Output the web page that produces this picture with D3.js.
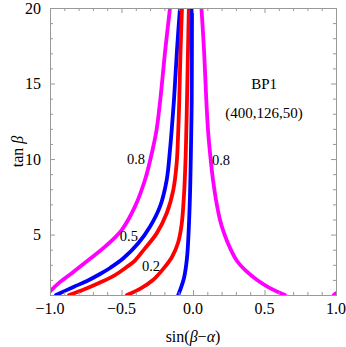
<!DOCTYPE html>
<html>
<head>
<meta charset="utf-8">
<script src="https://cdn.jsdelivr.net/npm/d3@7"></script>
<style>
  body { margin: 0; background: #fff; }
  text { font-family: "Liberation Serif", "DejaVu Serif", serif; }
</style>
</head>
<body>
<svg id="chart" width="346" height="347"></svg>
<script>
// axis ticks
const xTicks = [-1.0, -0.5, 0.0, 0.5, 1.0];
const xMinor = d3.range(-10, 11).map(d => d / 10);
const yTicks = [5, 10, 15, 20];
const yMinor = d3.range(1, 21);

// contour lines, [sin(beta-alpha), tan beta]
const magentaLeft = [[-1.0,1.23],[-0.941,1.77],[-0.846,2.46],[-0.731,3.32],[-0.615,4.20],[-0.499,5.30],[-0.406,6.85],[-0.336,8.61],[-0.283,10.60],[-0.255,11.92],[-0.229,13.91],[-0.194,17.22],[-0.161,20]];
const blueLeft = [[-0.958,1.0],[-0.836,1.53],[-0.741,1.93],[-0.650,2.39],[-0.580,2.79],[-0.487,3.43],[-0.383,4.42],[-0.301,5.52],[-0.231,6.85],[-0.184,8.61],[-0.161,10.60],[-0.149,11.92],[-0.133,13.91],[-0.112,17.22],[-0.091,20]];
const redOuter = [[-0.867,1.0],[-0.755,1.40],[-0.650,1.83],[-0.545,2.32],[-0.464,2.85],[-0.406,3.28],[-0.336,4.09],[-0.254,5.08],[-0.184,6.41],[-0.138,7.95],[-0.114,9.74],[-0.103,11.92],[-0.096,13.91],[-0.087,17.22],[-0.077,20]];
const redInner = [[-0.462,1.0],[-0.371,1.40],[-0.280,1.99],[-0.203,2.79],[-0.147,3.52],[-0.105,4.44],[-0.080,5.63],[-0.063,7.62],[-0.050,10.60],[-0.042,13.91],[-0.035,17.22],[-0.029,20]];
const blueRight = [[-0.103,1.0],[-0.063,2.13],[-0.042,3.45],[-0.031,5.10],[-0.022,7.29],[-0.017,9.28],[-0.012,11.92],[-0.009,13.91],[-0.007,20]];
const magentaRight = [[0.643,1.0],[0.538,1.46],[0.448,1.99],[0.371,2.59],[0.308,3.25],[0.259,4.11],[0.217,5.10],[0.189,5.97],[0.161,7.29],[0.140,8.61],[0.119,10.40],[0.105,11.92],[0.093,13.91],[0.077,17.22],[0.059,20]];
const magentaCorner = [[0.985,1.0],[1.0,1.12]];

const curves = [
  { pts: magentaLeft, color: "#ff00ff" },
  { pts: blueLeft, color: "#0000ff" },
  { pts: redOuter, color: "#ff0000" },
  { pts: redInner, color: "#ff0000" },
  { pts: blueRight, color: "#0000ff" },
  { pts: magentaRight, color: "#ff00ff" },
  { pts: magentaCorner, color: "#ff00ff" }
];

const contourLabels = [
  { text: "0.8", x: -0.399, y: 10.0 },
  { text: "0.8", x: 0.196, y: 9.95 },
  { text: "0.5", x: -0.448, y: 4.94 },
  { text: "0.2", x: -0.294, y: 2.92 }
];

const notes = [
  { text: "BP1", x: 0.497, y: 14.97 },
  { text: "(400,126,50)", x: 0.497, y: 13.05 }
];

const MARGIN = { TOP: 8, RIGHT: 10, BOTTOM: 52, LEFT: 50 };
const WIDTH = 346 - MARGIN.LEFT - MARGIN.RIGHT;
const HEIGHT = 347 - MARGIN.TOP - MARGIN.BOTTOM;

const svg = d3.select("#chart");
const g = svg.append("g").attr("transform", `translate(${MARGIN.LEFT},${MARGIN.TOP})`);

const xScale = d3.scaleLinear().domain([-1, 1]).range([0, WIDTH]);
const yScale = d3.scaleLinear().domain([1, 20]).range([HEIGHT, 0]);

g.append("clipPath").attr("id", "clip")
  .append("rect").attr("width", WIDTH).attr("height", HEIGHT);

const line = d3.line()
  .x(d => xScale(d[0]))
  .y(d => yScale(d[1]))
  .curve(d3.curveCatmullRom.alpha(0.5));

g.append("g").attr("clip-path", "url(#clip)")
  .selectAll("path")
  .data(curves)
  .join("path")
  .attr("fill", "none")
  .attr("stroke", d => d.color)
  .attr("stroke-width", 3.8)
  .attr("stroke-linecap", "round")
  .attr("d", d => line(d.pts));

// frame ticks (pointing inward, all four sides)
const frameColor = "#999";
function styleAxis(sel) {
  sel.select(".domain").attr("stroke", frameColor);
  sel.selectAll(".tick line").attr("stroke", frameColor);
  sel.selectAll("text").remove();
}
const minorX = xMinor.filter(d => !xTicks.some(t => Math.abs(t - d) < 1e-9));
const minorY = yMinor.filter(d => !yTicks.includes(d));

g.append("g").attr("transform", `translate(0,${HEIGHT})`)
  .call(d3.axisBottom(xScale).tickValues(minorX).tickSizeInner(-3).tickSizeOuter(0)).call(styleAxis);
g.append("g").attr("transform", `translate(0,${HEIGHT})`)
  .call(d3.axisBottom(xScale).tickValues(xTicks).tickSizeInner(-5).tickSizeOuter(0)).call(styleAxis);
g.append("g")
  .call(d3.axisTop(xScale).tickValues(minorX).tickSizeInner(-3).tickSizeOuter(0)).call(styleAxis);
g.append("g")
  .call(d3.axisTop(xScale).tickValues(xTicks).tickSizeInner(-5).tickSizeOuter(0)).call(styleAxis);
g.append("g")
  .call(d3.axisLeft(yScale).tickValues(minorY).tickSizeInner(-3).tickSizeOuter(0)).call(styleAxis);
g.append("g")
  .call(d3.axisLeft(yScale).tickValues(yTicks).tickSizeInner(-5).tickSizeOuter(0)).call(styleAxis);
g.append("g").attr("transform", `translate(${WIDTH},0)`)
  .call(d3.axisRight(yScale).tickValues(minorY).tickSizeInner(-3).tickSizeOuter(0)).call(styleAxis);
g.append("g").attr("transform", `translate(${WIDTH},0)`)
  .call(d3.axisRight(yScale).tickValues(yTicks).tickSizeInner(-5).tickSizeOuter(0)).call(styleAxis);

// tick labels
const fmt = d => (d < 0 ? "\u2212" : "") + Math.abs(d).toFixed(1);
g.append("g").selectAll("text")
  .data(xTicks)
  .join("text")
  .attr("x", d => xScale(d))
  .attr("y", HEIGHT + 19)
  .attr("text-anchor", "middle")
  .attr("font-size", "16px")
  .text(fmt);

g.append("g").selectAll("text")
  .data(yTicks)
  .join("text")
  .attr("x", -9)
  .attr("y", d => yScale(d))
  .attr("dy", "0.35em")
  .attr("text-anchor", "end")
  .attr("font-size", "16px")
  .text(d => d);

// contour labels
g.append("g").selectAll("text")
  .data(contourLabels)
  .join("text")
  .attr("x", d => xScale(d.x))
  .attr("y", d => yScale(d.y))
  .attr("dy", "0.35em")
  .attr("text-anchor", "middle")
  .attr("font-size", "14.5px")
  .text(d => d.text);

g.append("g").selectAll("text")
  .data(notes)
  .join("text")
  .attr("x", d => xScale(d.x))
  .attr("y", d => yScale(d.y))
  .attr("dy", "0.35em")
  .attr("text-anchor", "middle")
  .attr("font-size", "15px")
  .text(d => d.text);

// axis titles
const xTitle = svg.append("text")
  .attr("x", MARGIN.LEFT + WIDTH / 2)
  .attr("y", 342)
  .attr("text-anchor", "middle")
  .attr("font-size", "16px");
xTitle.append("tspan").text("sin(");
xTitle.append("tspan").attr("font-style", "italic").text("\u03b2");
xTitle.append("tspan").text("\u2212");
xTitle.append("tspan").attr("font-style", "italic").text("\u03b1");
xTitle.append("tspan").text(")");

const yTitle = svg.append("text")
  .attr("transform", `translate(23,${MARGIN.TOP + HEIGHT / 2}) rotate(-90)`)
  .attr("text-anchor", "middle")
  .attr("font-size", "16px");
yTitle.append("tspan").text("tan ");
yTitle.append("tspan").attr("font-style", "italic").text("\u03b2");
</script>
</body>
</html>
